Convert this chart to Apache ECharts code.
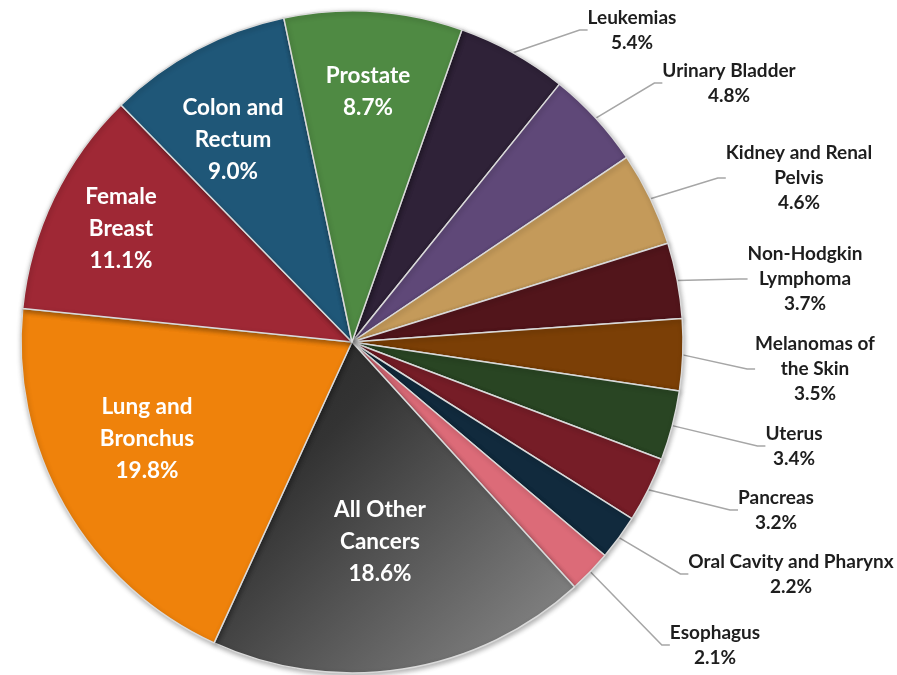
<!DOCTYPE html>
<html>
<head>
<meta charset="utf-8">
<script src="https://cdn.jsdelivr.net/npm/echarts@6/dist/echarts.min.js"></script>
<style>
  html, body { margin: 0; padding: 0; background: #fff; }
  #main { width: 897px; height: 675px; }
</style>
</head>
<body>
<div id="main"></div>
<script>
// slices, clockwise starting with Leukemias
var categories = ['Leukemias', 'Urinary Bladder', 'Kidney and Renal\nPelvis', 'Non-Hodgkin\nLymphoma',
  'Melanomas of\nthe Skin', 'Uterus', 'Pancreas', 'Oral Cavity and Pharynx', 'Esophagus',
  'All Other\nCancers', 'Lung and\nBronchus', 'Female\nBreast', 'Colon and\nRectum', 'Prostate'];
var percents = [5.4, 4.8, 4.6, 3.7, 3.5, 3.4, 3.2, 2.2, 2.1, 18.6, 19.8, 11.1, 9.0, 8.7];
var insideNames = ['All Other\nCancers', 'Lung and\nBronchus', 'Female\nBreast', 'Colon and\nRectum', 'Prostate'];

var colors = ['#2f2238', '#5f4878', '#c49a5a', '#52151b', '#7b3f06', '#294523', '#761d27',
  '#112a3d', '#dc6b78', null, '#ef820b', '#9f2835', '#1f5778', '#4f8a43'];

// label centres (layout only)
var labelPos = [[632, 30], [729, 83], [799, 178], [805, 279], [815, 369], [794, 446], [776, 510],
  [791, 574], [715, 645], [380, 542], [147, 439], [121, 229], [233, 140], [368, 92]];

var chart = echarts.init(document.getElementById('main'));

var pieData = categories.map(function (name, i) {
  var inside = insideNames.indexOf(name) >= 0;
  var color = colors[i];
  if (!color) {
    // grey gradient for "All Other Cancers"
    color = new echarts.graphic.LinearGradient(0, 0, 1, 1, [
      { offset: 0, color: '#242424' },
      { offset: 0.3, color: '#333333' },
      { offset: 1, color: '#8e8e8e' }
    ]);
  }
  return {
    name: name,
    value: percents[i],
    itemStyle: { color: color },
    label: inside ? {
      position: 'inside',
      color: '#ffffff',
      fontSize: 22.5,
      lineHeight: 32
    } : {
      position: 'outside',
      color: '#1e1e1e',
      fontSize: 19,
      lineHeight: 25
    },
    labelLine: { show: !inside }
  };
});

var option = {
  animation: false,
  backgroundColor: '#ffffff',
  series: [{
    type: 'pie',
    center: [352, 342],
    radius: [0, 331],
    startAngle: 70.6,
    clockwise: true,
    avoidLabelOverlap: false,
    minShowLabelAngle: 0,
    data: pieData,
    itemStyle: {
      borderColor: '#dadada',
      borderWidth: 1.5,
      shadowBlur: 5,
      shadowColor: 'rgba(0,0,0,0.3)',
      shadowOffsetX: 1,
      shadowOffsetY: 2
    },
    label: {
      fontFamily: 'Lato',
      fontWeight: 'bold',
      align: 'center',
      formatter: function (p) {
        return p.name + '\n' + p.value.toFixed(1) + '%';
      }
    },
    labelLine: {
      length: 20,
      length2: 8,
      smooth: false,
      lineStyle: { color: '#a6a6a6', width: 1.5 }
    },
    labelLayout: function (p) {
      var pos = labelPos[p.dataIndex];
      return { x: pos[0], y: pos[1], align: 'center', verticalAlign: 'middle' };
    },
    emphasis: { disabled: true }
  }]
};

chart.setOption(option);
</script>
</body>
</html>
